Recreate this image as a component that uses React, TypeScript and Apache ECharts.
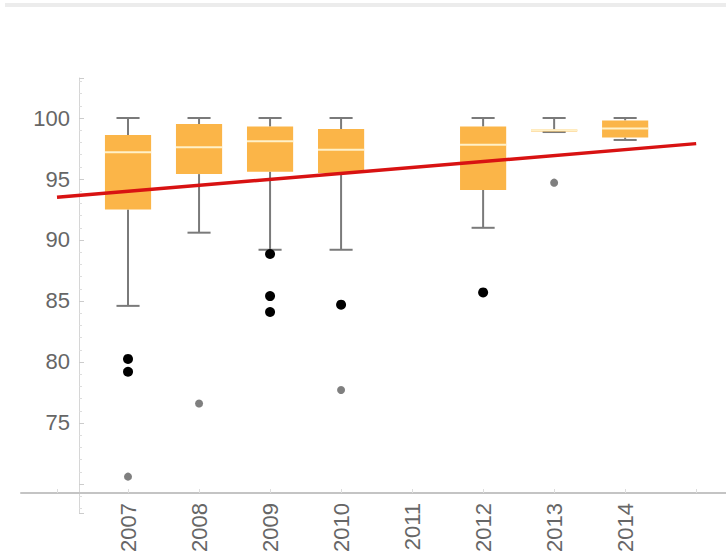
import React, { useEffect, useRef } from "react";
import * as echarts from "echarts";

// [year, min, Q1, median, Q3, max]
const years = [2007, 2008, 2009, 2010, 2012, 2013, 2014];
const whiskerMin = [84.6, 90.6, 89.2, 89.2, 91.0, 98.85, 98.2];
const q1 = [92.5, 95.4, 95.6, 95.5, 94.1, 98.95, 98.4];
const median = [97.2, 97.6, 98.1, 97.4, 97.8, 99.0, 99.15];
const q3 = [98.6, 99.5, 99.3, 99.1, 99.3, 99.05, 99.8];
const whiskerMax = [100, 100, 100, 100, 100, 100, 100];

const farOutliers: [number, number][] = [
  [2007, 80.25],
  [2007, 79.2],
  [2009, 88.85],
  [2009, 85.4],
  [2009, 84.1],
  [2010, 84.7],
  [2012, 85.7],
];
const nearOutliers: [number, number][] = [
  [2007, 70.6],
  [2008, 76.6],
  [2010, 77.7],
  [2013, 94.7],
];

const trendX = [2006, 2015];
const trendY = [93.5, 97.9];

const xLabelYears = [2007, 2008, 2009, 2010, 2011, 2012, 2013, 2014];
const yLabelValues = [75, 80, 85, 90, 95, 100];

export default function App() {
  const ref = useRef<HTMLDivElement>(null);
  useEffect(() => {
    if (!ref.current) return;
    const chart = echarts.init(ref.current, undefined, { renderer: "svg" });
    const boxData = years.map((y, i) => [y, whiskerMin[i], q1[i], median[i], q3[i], whiskerMax[i]]);
    const labelFont = "Liberation Sans, Arial, sans-serif";
    chart.setOption({
      animation: false,
      backgroundColor: "#ffffff",
      graphic: [
        {
          type: "rect",
          shape: { x: 5, y: 3, width: 721, height: 4 },
          style: { fill: "#ececec" },
          silent: true,
        },
      ],
      grid: { left: 21, right: 0, top: 78, bottom: 45, containLabel: false },
      xAxis: {
        type: "value",
        min: 2005.493,
        max: 2015.42,
        minInterval: 1,
        maxInterval: 1,
        offset: -20,
        splitLine: { show: false },
        axisLine: { show: true, lineStyle: { color: "#c4c4c4", width: 2 } },
        axisTick: { show: true, inside: true, length: 4, lineStyle: { color: "#dddddd" } },
        axisLabel: {
          rotate: 90,
          margin: 10,
          color: "#666666",
          fontSize: 22,
          fontFamily: labelFont,
          showMinLabel: false,
          showMaxLabel: false,
          formatter: (v: number) =>
            xLabelYears.indexOf(Math.round(v)) >= 0 && Math.abs(v - Math.round(v)) < 1e-6 ? String(Math.round(v)) : "",
        },
      },
      yAxis: {
        type: "value",
        min: 67.62,
        max: 103.28,
        minInterval: 5,
        maxInterval: 5,
        offset: -58,
        splitLine: { show: false },
        axisLine: { show: true, lineStyle: { color: "#d6d6d6", width: 1 } },
        axisTick: { show: true, inside: true, length: 5, lineStyle: { color: "#cccccc" } },
        minorTick: { show: true, splitNumber: 5, length: 3, lineStyle: { color: "#dddddd" } },
        axisLabel: {
          margin: 9,
          color: "#666666",
          fontSize: 22,
          fontFamily: labelFont,
          showMinLabel: false,
          showMaxLabel: false,
          formatter: (v: number) => {
            const r = Math.round(v);
            return Math.abs(v - r) < 1e-6 && yLabelValues.indexOf(r) >= 0 ? String(r) : "";
          },
        },
      },
      series: [
        {
          type: "custom",
          data: boxData,
          encode: { x: 0, y: [1, 2, 3, 4, 5] },
          z: 2,
          renderItem: (params: any, api: any) => {
            const x = api.value(0);
            const pMin = api.coord([x, api.value(1)]);
            const pQ1 = api.coord([x, api.value(2)]);
            const pMed = api.coord([x, api.value(3)]);
            const pQ3 = api.coord([x, api.value(4)]);
            const pMax = api.coord([x, api.value(5)]);
            const unit = api.size([1, 0])[0];
            const w = unit * 0.65;
            const cw = w / 2;
            const cx = pMed[0];
            const whisker = { stroke: "#7a7a7a", lineWidth: 2 };
            return {
              type: "group",
              children: [
                { type: "line", shape: { x1: cx, y1: pMax[1], x2: cx, y2: pQ3[1] }, style: whisker },
                { type: "line", shape: { x1: cx - cw / 2, y1: pMax[1], x2: cx + cw / 2, y2: pMax[1] }, style: whisker },
                { type: "line", shape: { x1: cx, y1: pQ1[1], x2: cx, y2: pMin[1] }, style: whisker },
                { type: "line", shape: { x1: cx - cw / 2, y1: pMin[1], x2: cx + cw / 2, y2: pMin[1] }, style: whisker },
                {
                  type: "rect",
                  shape: { x: cx - w / 2, y: pQ3[1], width: w, height: Math.max(pQ1[1] - pQ3[1], 2) },
                  style: { fill: "#FBB548" },
                },
                {
                  type: "line",
                  shape: { x1: cx - w / 2, y1: pMed[1], x2: cx + w / 2, y2: pMed[1] },
                  style: { stroke: "#FFF1C8", lineWidth: 2 },
                },
              ],
            };
          },
        },
        {
          type: "line",
          data: trendX.map((x, i) => [x, trendY[i]]),
          showSymbol: false,
          symbol: "none",
          z: 3,
          lineStyle: { color: "#D81212", width: 3.5, opacity: 1 },
        },
        {
          type: "scatter",
          data: farOutliers,
          symbol: "circle",
          symbolSize: 10,
          z: 4,
          itemStyle: { color: "#000000", opacity: 1 },
        },
        {
          type: "scatter",
          data: nearOutliers,
          symbol: "circle",
          symbolSize: 8,
          z: 4,
          itemStyle: { color: "#7f7f7f", opacity: 1 },
        },
      ],
    });
    return () => chart.dispose();
  }, []);
  return <div ref={ref} style={{ width: 726, height: 558, position: "absolute", left: 0, top: 0 }} />;
}
